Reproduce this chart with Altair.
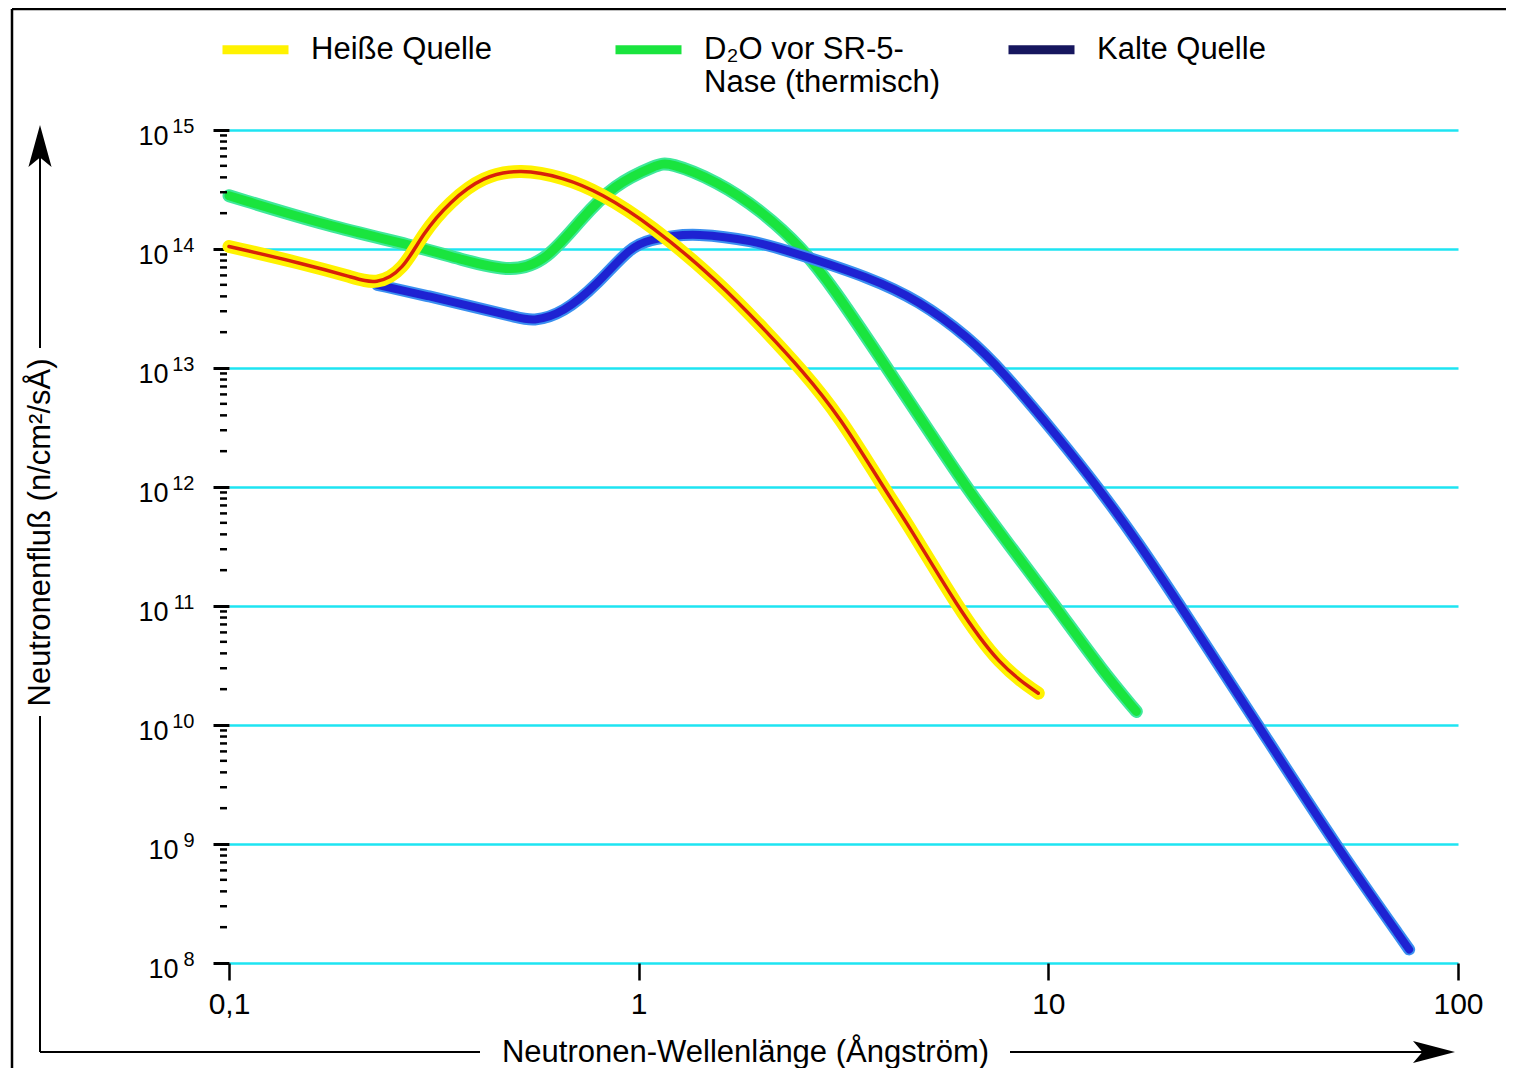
import altair as alt
import pandas as pd

FONT = "Liberation Sans"

# ---------------- data ----------------
series_names = ["Heiße Quelle", "D₂O vor SR-5- Nase (thermisch)", "Kalte Quelle"]
legend_labels = ["Heiße Quelle| ", "D₂O vor SR-5-|Nase (thermisch)", "Kalte Quelle| "]

hot_wl = [0.1, 0.15, 0.2, 0.229, 0.266, 0.297, 0.346, 0.417, 0.514, 0.655, 0.81,
          1.07, 1.56, 2.07, 2.49, 3.1, 3.95, 4.59, 5.98, 7.62, 9.45]
hot_flux = [1.05e14, 7.6e13, 5.8e13, 5.0e13, 6.6e13, 1.35e14, 2.5e14, 4.1e14, 4.7e14,
            4.0e14, 2.95e14, 1.6e14, 5.4e13, 1.95e13, 9.8e12, 3.9e12, 1.0e12, 4.6e11,
            1.0e11, 3.1e10, 1.85e10]

d2o_wl = [0.1, 0.176, 0.281, 0.372, 0.494, 0.598, 0.72, 0.87, 1.11, 1.18, 1.56,
          1.99, 2.49, 3.0, 3.88, 5.28, 6.3, 8.0, 10.4, 13.6, 16.4]
d2o_flux = [2.8e14, 1.55e14, 1.07e14, 8.1e13, 6.3e13, 8.1e13, 1.75e14, 3.5e14, 5.1e14,
            5.4e14, 3.7e14, 2.1e14, 1.05e14, 4.6e13, 1.23e13, 2.5e12, 1.0e12, 3.3e11,
            1.0e11, 2.8e10, 1.3e10]

cold_wl = [0.23, 0.309, 0.41, 0.5, 0.552, 0.655, 0.795, 0.956, 1.07, 1.22, 1.36, 1.88,
           2.49, 3.64, 4.83, 6.4, 7.71, 10.6, 13.2, 16.5, 21.0, 32.5, 50.0, 76.0]
cold_flux = [5.0e13, 4.0e13, 3.16e13, 2.7e13, 2.45e13, 2.9e13, 5.1e13, 1.05e14, 1.2e14,
             1.29e14, 1.35e14, 1.2e14, 8.9e13, 5.8e13, 3.7e13, 1.8e13, 9.5e12, 2.6e12,
             1.0e12, 3.5e11, 1.0e11, 1.0e10, 1.0e9, 1.3e8]

x_ticks = [0.1, 1, 10, 100]
y_decades = [1e8, 1e9, 1e10, 1e11, 1e12, 1e13, 1e14, 1e15]
y_decades_short = [1e8, 1e9]          # one-digit exponents
minor_mult = [2, 3, 4, 5, 6, 7, 8, 9]

rows = []
for name, xs, ys in zip(series_names, [hot_wl, d2o_wl, cold_wl], [hot_flux, d2o_flux, cold_flux]):
    for xv, yv in zip(xs, ys):
        rows.append({"series": name, "wl": xv, "flux": yv})
df = pd.DataFrame(rows)
minor_df = pd.DataFrame({"v": [m * d for d in y_decades[:-1] for m in minor_mult]})

# ---------------- styling ----------------
YELLOW = "#fff200"
RED = "#d8200a"
GREEN_EDGE = "#3fe89a"
GREEN = "#1ae43e"
BLUE_EDGE = "#3a8ff0"
BLUE = "#1e22d2"
NAVY = "#16165e"
GRID = "#1ee4f2"

x_scale = alt.Scale(type="log", domain=[0.1, 100], nice=False)
y_scale = alt.Scale(type="log", domain=[1e8, 1e15], nice=False)

x_axis = alt.Axis(
    values=x_ticks, orient="bottom",
    labelExpr="replace(format(datum.value, '~g'), '.', ',')",
    labelFont=FONT, labelFontSize=30, labelColor="black", labelPadding=9,
    labelFlush=False, labelOverlap=False,
    tickSize=17, tickWidth=2.5, tickColor="black", domain=False, grid=False,
    title="Neutronen-Wellenlänge (Ångström)", titleFont=FONT, titleFontSize=31,
    titleFontWeight="normal", titleColor="black", titleX=516, titleY=89,
    titleAlign="center", titleBaseline="middle",
)
# main y axis: ticks, grid, title and the "10" of the two-digit labels
y_axis = alt.Axis(
    values=y_decades, orient="left",
    labelExpr="datum.value >= 1e10 ? '10' : ''",
    labelFont=FONT, labelFontSize=27, labelColor="black", labelPadding=45, labelOffset=6,
    labelFlush=False, labelOverlap=False,
    tickSize=16, tickWidth=3, tickColor="black", domain=False,
    grid=True, gridColor=GRID, gridWidth=2.5, gridOpacity=1,
    title="Neutronenfluß (n/cm²/sÅ)", titleFont=FONT, titleFontSize=31,
    titleFontWeight="normal", titleColor="black", titleX=-189, titleY=402,
    titleAngle=270, titleAlign="center", titleBaseline="middle",
)
# "10" of the one-digit labels
y_axis_short = alt.Axis(
    values=y_decades_short, orient="left", labelExpr="'10'",
    labelFont=FONT, labelFontSize=27, labelColor="black", labelPadding=51, labelOffset=6,
    labelFlush=False, labelOverlap=False,
    ticks=False, tickSize=0, domain=False, grid=False, title=None,
)
# exponents
exp_axis = alt.Axis(
    values=y_decades, orient="left",
    labelExpr="'' + round(log(datum.value) / LN10)",
    labelFont=FONT, labelFontSize=20, labelColor="black", labelAlign="right",
    labelPadding=35, labelOffset=-4, labelFlush=False, labelOverlap=False,
    ticks=False, tickSize=0, domain=False, grid=False, title=None,
)


def curve(name, color, width, yax=None):
    return alt.Chart(df).transform_filter(
        alt.FieldEqualPredicate(field="series", equal=name)
    ).mark_line(
        color=color, strokeWidth=width, interpolate="basis",
        strokeCap="round", strokeJoin="round",
    ).encode(
        x=alt.X("wl:Q", scale=x_scale, axis=x_axis),
        y=alt.Y("flux:Q", scale=y_scale, axis=yax),
    )


legend_layer = alt.Chart(df).transform_filter("false").mark_line(strokeWidth=9).encode(
    x=alt.X("wl:Q", scale=x_scale, axis=x_axis),
    y=alt.Y("flux:Q", scale=y_scale, axis=None),
    color=alt.Color(
        "series:N",
        scale=alt.Scale(domain=legend_labels, range=[YELLOW, GREEN, NAVY]),
        legend=alt.Legend(
            title=None, orient="none", legendX=-11, legendY=-118,
            direction="horizontal", columns=3, gridAlign="all",
            symbolType="stroke", symbolStrokeWidth=9, symbolSize=4356,
            labelFont=FONT, labelFontSize=31, labelColor="black",
            labelExpr="split(datum.label, '|')", labelOffset=18, labelLimit=500,
            columnPadding=50, padding=0, symbolOpacity=1,
        ),
    ),
)

minor_ticks = alt.Chart(minor_df).mark_rule(color="black", strokeWidth=2.5).encode(
    y=alt.Y("v:Q", scale=y_scale, axis=exp_axis),
    x=alt.value(-9),
    x2=alt.value(-2),
)

one = alt.Data(values=[{"k": 0}])


def hrule(x1, x2, y, w=2):
    return alt.Chart(one).mark_rule(color="black", strokeWidth=w).encode(
        x=alt.value(x1), x2=alt.value(x2), y=alt.value(y))


def vrule(x, y1, y2, w=2):
    return alt.Chart(one).mark_rule(color="black", strokeWidth=w).encode(
        x=alt.value(x), y=alt.value(y1), y2=alt.value(y2))


up_head = alt.Chart(one).mark_point(
    shape="M0,-1L0.55,1L0,0.55L-0.55,1Z", filled=True, color="black", opacity=1, size=1764
).encode(x=alt.value(-189), y=alt.value(16))
right_head = alt.Chart(one).mark_point(
    shape="M1,0L-1,0.52L-0.55,0L-1,-0.52Z", filled=True, color="black", opacity=1, size=1764
).encode(x=alt.value(1205), y=alt.value(922))

decor = [
    vrule(-217, -121, 940, 2.5),      # frame left
    hrule(-217, 1277, -121, 2.5),     # frame top
    vrule(-189, 20, 218),             # y arrow shaft above title
    vrule(-189, 586, 922),            # y line below title
    hrule(-189, 251, 922),            # x line left of title
    hrule(781, 1200, 922),            # x arrow shaft
    up_head, right_head,
]

chart = alt.layer(
    legend_layer,
    curve(series_names[1], GREEN_EDGE, 13, yax=y_axis),
    curve(series_names[1], GREEN, 9, yax=y_axis_short),
    curve(series_names[2], BLUE_EDGE, 12),
    curve(series_names[2], BLUE, 8),
    curve(series_names[0], YELLOW, 13),
    curve(series_names[0], RED, 3.5),
    minor_ticks,
    *decor,
).resolve_axis(y="independent").properties(
    width=1229, height=833,
    autosize=alt.AutoSizeParams(type="none"),
    padding={"left": 221, "top": 122, "right": 48, "bottom": 105},
    background="white",
).configure_view(stroke=None)

chart.save("out.html", embed_options={"renderer": "svg", "actions": False})
